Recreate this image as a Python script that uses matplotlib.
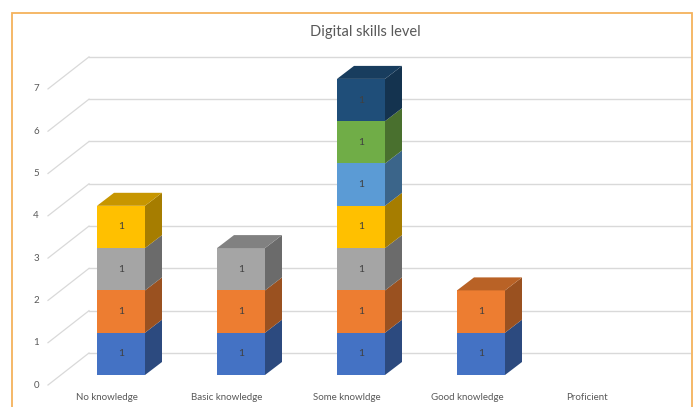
import matplotlib
matplotlib.use("Agg")
import matplotlib.pyplot as plt
from matplotlib.patches import Polygon, Rectangle
from matplotlib.colors import to_rgb

plt.rcParams['font.family'] = ['Lato', 'DejaVu Sans']

categories = ["No knowledge", "Basic knowledge", "Some knowldge", "Good knowledge", "Proficient"]
# one row per stacked series, one column per category
series_values = [
    [1, 1, 1, 1, 0],
    [1, 1, 1, 1, 0],
    [1, 1, 1, 0, 0],
    [1, 0, 1, 0, 0],
    [0, 0, 1, 0, 0],
    [0, 0, 1, 0, 0],
    [0, 0, 1, 0, 0],
]
series_colors = ["#4472C4", "#ED7D31", "#A5A5A5", "#FFC000", "#5B9BD5", "#70AD47", "#1F4E79"]
y_ticks = [0, 1, 2, 3, 4, 5, 6, 7]

W, H = 698, 407
fig = plt.figure(figsize=(W / 100, H / 100), dpi=100)
ax = fig.add_axes([0, 0, 1, 1])
ax.set_axis_off()

# pixel-to-data mapping: category step 120 px, one unit 42.3 px
px_x, px_y = 120.0, 42.3
x0_px, y0_px = 121.0, 375.0
ax.set_xlim(-x0_px / px_x, (W - x0_px) / px_x)
ax.set_ylim((y0_px - H) / px_y, y0_px / px_y)

bar_w = 0.4
dx, dy = 17 / px_x, 13 / px_y        # bar depth
wall_dy = 22 / px_y                  # back wall offset above front face
label_dy = -10 / px_y                # axis label offset
wall_x0, wall_x1 = (89 - x0_px) / px_x, (690 - x0_px) / px_x
side_x0 = (48 - x0_px) / px_x

grid_c = "#D9D9D9"
for v in y_ticks:
    ax.plot([wall_x0, wall_x1], [v + wall_dy, v + wall_dy], color=grid_c, lw=1.0, zorder=1)
    ax.plot([side_x0, wall_x0], [v + label_dy, v + wall_dy], color=grid_c, lw=0.9, zorder=1)
    ax.text((36 - x0_px) / px_x, v + label_dy, str(v), ha="center", va="center",
            fontsize=7, color="#595959")


def shade(c, f):
    r, g, b = to_rgb(c)
    return (r * f, g * f, b * f)


x = list(range(len(categories)))
bottoms = [0] * len(categories)
tops = [None] * len(categories)
for vals, col in zip(series_values, series_colors):
    bars = ax.bar(x, vals, width=bar_w, bottom=bottoms, color=col, zorder=3, linewidth=0)
    ax.bar_label(bars, labels=[str(v) if v else "" for v in vals], label_type="center",
                 fontsize=7.5, color="#404040", zorder=5)
    for i, (v, rect) in enumerate(zip(vals, bars)):
        if not v:
            continue
        xr = rect.get_x() + rect.get_width()
        b, t = rect.get_y(), rect.get_y() + rect.get_height()
        ax.add_patch(Polygon([(xr, b), (xr + dx, b + dy), (xr + dx, t + dy), (xr, t)],
                             closed=True, facecolor=shade(col, 0.65), lw=0, zorder=2))
        tops[i] = (rect.get_x(), xr, t, col)
    bottoms = [b + v for b, v in zip(bottoms, vals)]

for top in tops:
    if top is None:
        continue
    xl, xr, t, col = top
    ax.add_patch(Polygon([(xl, t), (xr, t), (xr + dx, t + dy), (xl + dx, t + dy)],
                         closed=True, facecolor=shade(col, 0.78), lw=0, zorder=4))

for i, name in enumerate(categories):
    ax.text(i - 14 / px_x, (y0_px - 398) / px_y, name, ha="center", va="center",
            fontsize=7, color="#595959")

fig.text(365 / W, 1 - 32 / H, "Digital skills level", ha="center", va="center",
         fontsize=10.5, color="#595959")

fig.add_artist(Rectangle((12 / W, -0.05), 680 / W, 1.05 - 13 / H, transform=fig.transFigure,
                         fill=False, edgecolor="#F5B25C", lw=1.3))

fig.savefig("out.png", dpi=100)
